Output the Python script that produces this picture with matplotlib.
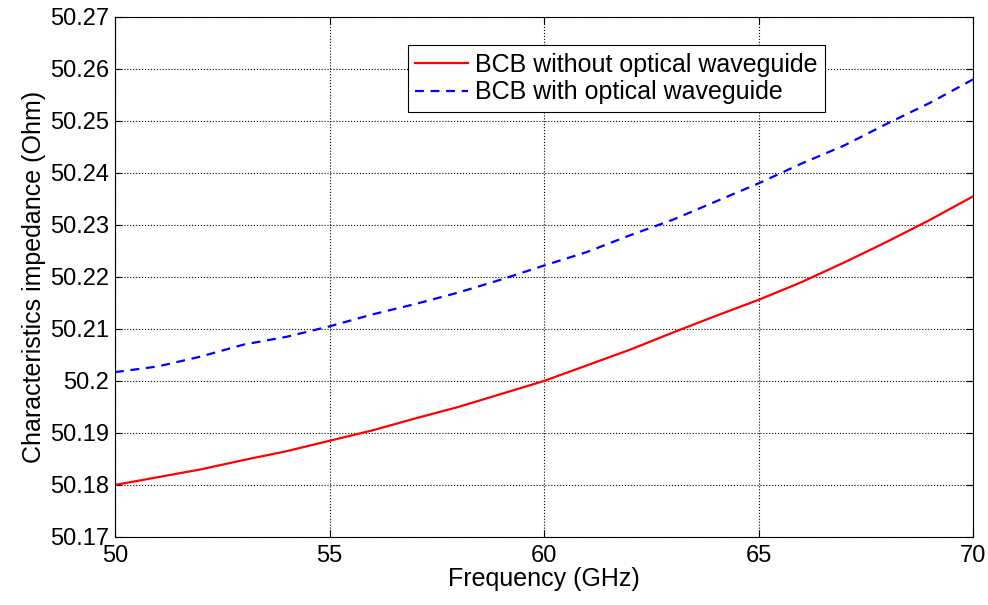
import numpy as np
import matplotlib
matplotlib.use('Agg')
import matplotlib.pyplot as plt

plt.rcParams['font.family'] = ['Liberation Sans', 'DejaVu Sans']

# Data
freq = np.arange(50, 71, 1)
z_without = [50.1800, 50.1815, 50.1830, 50.1848, 50.1865, 50.1885, 50.1905, 50.1928, 50.1950,
             50.1975, 50.2000, 50.2030, 50.2060, 50.2093, 50.2125, 50.2156, 50.2190, 50.2228,
             50.2268, 50.2310, 50.2355]
z_with = [50.2017, 50.2028, 50.2047, 50.2070, 50.2085, 50.2105, 50.2128, 50.2148, 50.2170,
          50.2195, 50.2222, 50.2248, 50.2280, 50.2310, 50.2345, 50.2380, 50.2418, 50.2453,
          50.2495, 50.2535, 50.2580]
labels = ['BCB without optical waveguide', 'BCB with optical waveguide']

fig = plt.figure(figsize=(9.88, 6.05), dpi=100)
ax = fig.add_axes([0.1164, 0.1124, 0.8685, 0.8596])

ax.plot(freq, z_without, color='red', lw=1.6, label=labels[0])
ax.plot(freq, z_with, color='blue', lw=1.6, ls=(0, (4, 3)), label=labels[1])

ax.set_xlim(50, 70)
ax.set_ylim(50.17, 50.27)
ax.set_xticks(np.arange(50, 71, 5))
ax.set_yticks(np.arange(50.17, 50.2701, 0.01))
ax.set_yticklabels(['50.17', '50.18', '50.19', '50.2', '50.21', '50.22', '50.23',
                    '50.24', '50.25', '50.26', '50.27'])

# MATLAB-like look: dotted grid, inward ticks on all sides
ax.grid(True, color='black', ls=':', lw=0.8)
ax.tick_params(direction='in', top=True, right=True, labelsize=17, length=5)
ax.tick_params(axis='x', pad=6)
ax.tick_params(axis='y', pad=4)
for spine in ax.spines.values():
    spine.set_linewidth(0.8)

ax.set_xlabel('Frequency (GHz)', fontsize=18, labelpad=0)
ax.set_ylabel('Characteristics impedance (Ohm)', fontsize=18, labelpad=3)

leg = ax.legend(loc='upper left', bbox_to_anchor=(0.341, 0.946), fontsize=18,
                frameon=True, fancybox=False, edgecolor='black', framealpha=1,
                handlelength=2.1, borderpad=0.3, labelspacing=0.15, handletextpad=0.3,
                borderaxespad=0)
leg.get_frame().set_linewidth(0.8)

fig.savefig('out.png', dpi=100)
